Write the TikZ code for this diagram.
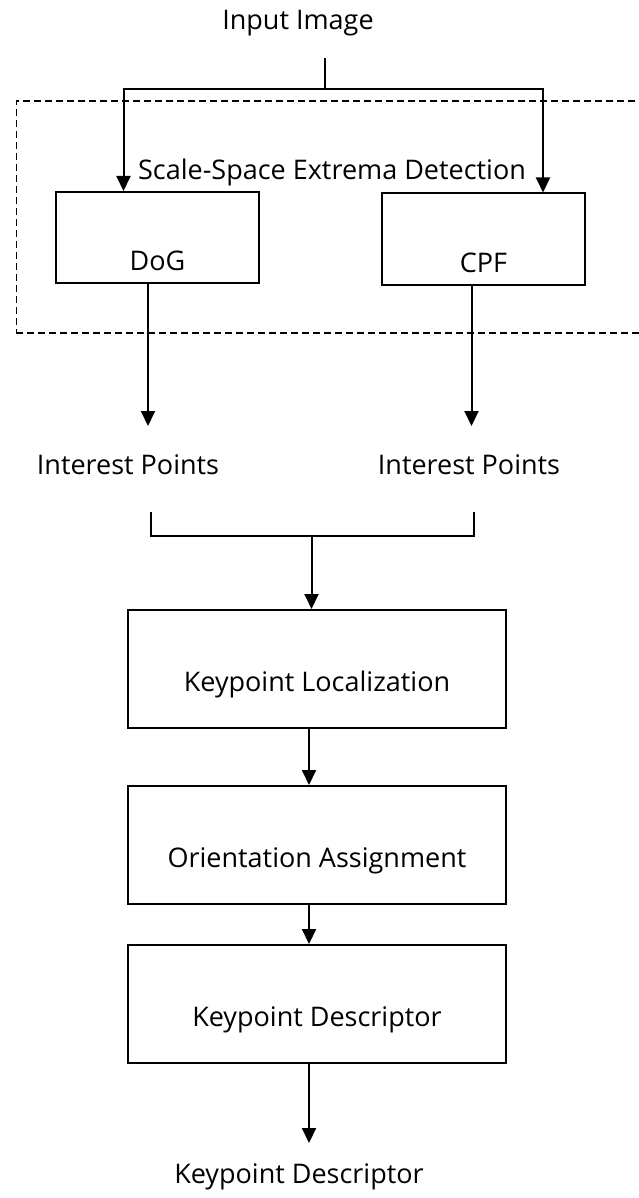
\documentclass[tikz,border=0pt]{standalone}
\usepackage{fontspec}
\setmainfont{Open Sans}
\usetikzlibrary{arrows.meta,positioning}
\tikzset{
  blk/.style = {draw, line width=2pt, rectangle, minimum width=378pt, minimum height=118pt, inner sep=2pt, text height=49pt, text depth=4pt, align=center},
  sblk/.style = {blk, minimum width=203pt, minimum height=91pt, text height=70pt},
  grp/.style = {draw, line width=1.8pt, dash pattern=on 7pt off 4pt, rectangle, inner sep=0pt},
  lbl/.style = {inner sep=2pt, align=center},
  line/.style = {line width=2pt},
  arrow/.style = {line width=2pt, -{Triangle[length=15pt, width=14pt]}}
}

\begin{document}
\begin{tikzpicture}[x=1pt, y=-1pt, font=\fontsize{27}{32}\selectfont]
            \useasboundingbox (0,0) rectangle (638,1198);
            \node[lbl] (img) at (298,23) {Input Image};
            \node[grp, minimum width=650pt, minimum height=232pt, anchor=north west] (sse) at (15.5,100) {};
            \node[lbl] (ssetitle) at (332,172) {Scale-Space Extrema Detection};
            \node[sblk] (dog) at (157.5,237.5) {DoG};
            \node[sblk] (cpf) at (483.5,239) {CPF};
            \node[lbl] (ipl) at (128,465) {Interest Points};
            \node[lbl] (ipr) at (469,465) {Interest Points};
            \node[blk] (kl) at (317,669) {Keypoint Localization};
            \node[blk, below=56pt of kl] (oa) {Orientation Assignment};
            \node[blk, below=39pt of oa] (kd) {Keypoint Descriptor};
            \node[lbl] (desc) at (299,1177) {Keypoint Descriptor};
            \coordinate (imgout) at (325,58);
            \coordinate (fork) at (325,89);
            \coordinate (dogout) at (148,426);
            \coordinate (cpfout) at (471.5,426);
            \coordinate (mergel) at (151,512);
            \coordinate (merger) at (474,512);
            \coordinate (merge) at (311.5,536);
            \coordinate (kdout) at (309,1143);
            \draw[line] (imgout) -- (fork);
            \draw[arrow] (fork) -| ([xshift=-34pt]dog.north);
            \draw[arrow] (fork) -| ([xshift=59.5pt]cpf.north);
            \draw[arrow] (dog.south -| dogout) -- (dogout);
            \draw[arrow] (cpf.south -| cpfout) -- (cpfout);
            \draw[line] (mergel) |- (merge) -| (merger);
            \draw[arrow] (merge) -- (merge |- kl.north);
            \draw[arrow] ([xshift=-8pt]kl.south) -- ([xshift=-8pt]kl.south |- oa.north);
            \draw[arrow] ([xshift=-8pt]oa.south) -- ([xshift=-8pt]oa.south |- kd.north);
            \draw[arrow] (kd.south -| kdout) -- (kdout);
        \end{tikzpicture}
\end{document}
